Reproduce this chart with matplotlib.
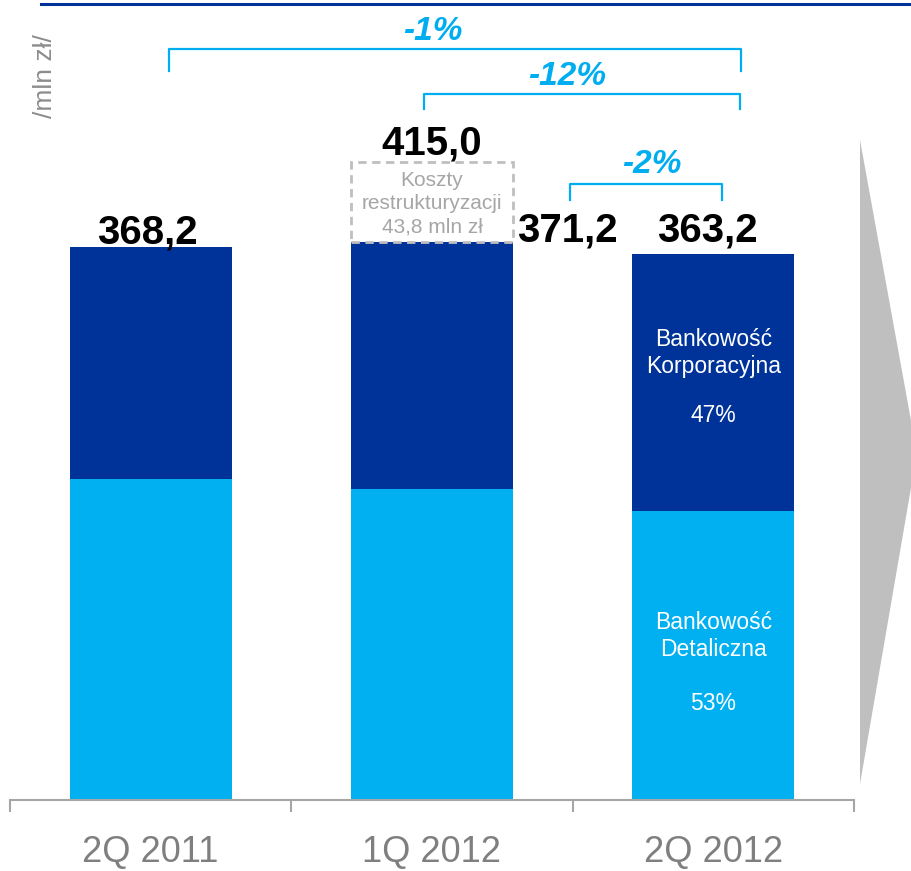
import numpy as np
import matplotlib.pyplot as plt
from matplotlib.patches import Rectangle, Polygon
from matplotlib.lines import Line2D

plt.rcParams['font.family'] = ['Liberation Sans', 'DejaVu Sans']

# data (mln zł)
quarters = ['2Q 2011', '1Q 2012', '2Q 2012']
retail = [213.7, 207.1, 192.4]
corporate = [154.5, 164.1, 170.8]
totals = [368.2, 371.2, 363.2]
restructuring = 43.8
changes = ['-1%', '-12%', '-2%']

DARK = '#003399'
LIGHT = '#00B0F0'
CYAN = '#00AEEF'
GRAY = '#8C8C8C'


def pl(v):
    return '{:.1f}'.format(v).replace('.', ',')


fig = plt.figure(figsize=(9.12, 8.71), dpi=100)
W, H = 912, 871
px_per_unit = 1.502
ax = fig.add_axes([10 / W, (H - 800) / H, 844 / W, 800 / H])
ax.set_xlim(-0.5, 2.5)
ax.set_ylim(0, 800 / px_per_unit)


def py(p):
    # pixel row -> data y
    return (800 - p) / px_per_unit


def px(p):
    # pixel column -> data x
    return (p - 10) / 281.33 - 0.5


x = np.arange(len(quarters))
width = 0.576
ax.bar(x, retail, width, color=LIGHT, linewidth=0)
ax.bar(x, corporate, width, bottom=retail, color=DARK, linewidth=0)

# restructuring cost box above 1Q 2012
box_top = py(162)
ax.add_patch(Rectangle((x[1] - width / 2, totals[1]), width, box_top - totals[1],
                       fill=False, edgecolor='#BFBFBF', linestyle=(0, (3, 2)), lw=2))
ax.text(x[1], py(204),
        'Koszty\nrestrukturyzacji\n%s mln zł' % pl(restructuring),
        ha='center', va='center', fontsize=15, color='#A6A6A6', linespacing=1.28)

# value labels
ax.text(x[0] - 0.01, py(243), pl(totals[0]), ha='center', va='baseline',
        fontsize=29, fontweight='bold')
ax.text(x[1], py(155), pl(totals[1] + restructuring), ha='center', va='baseline',
        fontsize=29, fontweight='bold')
ax.text(px(517), py(242), pl(totals[1]), ha='left', va='baseline',
        fontsize=29, fontweight='bold')
ax.text(x[2] - 0.02, py(242), pl(totals[2]), ha='center', va='baseline',
        fontsize=29, fontweight='bold')

# change brackets
brackets = [(169, 741, 49, 71, 433, 32), (424, 740, 94, 109, 567, 77),
            (570, 722, 184, 200, 652, 165)]
for (x0, x1, yl, yt, tx, ty), lab in zip(brackets, changes):
    ax.plot([px(x0), px(x0), px(x1), px(x1)], [py(yt), py(yl), py(yl), py(yt)],
            color=CYAN, lw=1.6, clip_on=False, solid_joinstyle='round')
    ax.text(px(tx), py(ty), lab, ha='center', va='center', color=CYAN,
            fontsize=24, fontweight='bold', fontstyle='italic')

# segment labels in last bar
ax.text(x[2], py(353), 'Bankowość\nKorporacyjna', ha='center', va='center',
        color='white', fontsize=16.5, linespacing=1.2)
ax.text(x[2], py(415), '%d%%' % round(100 * corporate[2] / totals[2]), ha='center',
        va='center', color='white', fontsize=16.5)
ax.text(x[2], py(636), 'Bankowość\nDetaliczna', ha='center', va='center',
        color='white', fontsize=16.5, linespacing=1.2)
ax.text(x[2], py(703), '%d%%' % round(100 * retail[2] / totals[2]), ha='center',
        va='center', color='white', fontsize=16.5)

# axes styling
for s in ['top', 'right', 'left']:
    ax.spines[s].set_visible(False)
ax.spines['bottom'].set_color('#A6A6A6')
ax.spines['bottom'].set_linewidth(1.5)
ax.set_yticks([])
ax.set_xticks([-0.5, 0.5, 1.5, 2.5])
ax.set_xticklabels([])
ax.tick_params(axis='x', which='major', direction='out', length=8.5, width=1.5,
               color='#A6A6A6')
ax.set_xticks(x, minor=True)
ax.set_xticklabels(quarters, minor=True)
ax.tick_params(axis='x', which='minor', length=0, pad=25, labelsize=26,
               labelcolor='#7F7F7F')

# unit label, top rule and side arrow
fig.text(45 / W, 1 - 76 / H, '/mln zł/', rotation=90, ha='center', va='center',
         fontsize=19, color=GRAY)
fig.add_artist(Line2D([41 / W, 1], [1 - 4 / H, 1 - 4 / H], color='#003399', lw=2.2))
arrow = [(860, 140), (912, 426), (912, 482), (860, 784)]
fig.add_artist(Polygon([(a / W, 1 - b / H) for a, b in arrow], closed=True,
                       facecolor='#BFBFBF', edgecolor='none'))

fig.savefig('out.png', dpi=100)
